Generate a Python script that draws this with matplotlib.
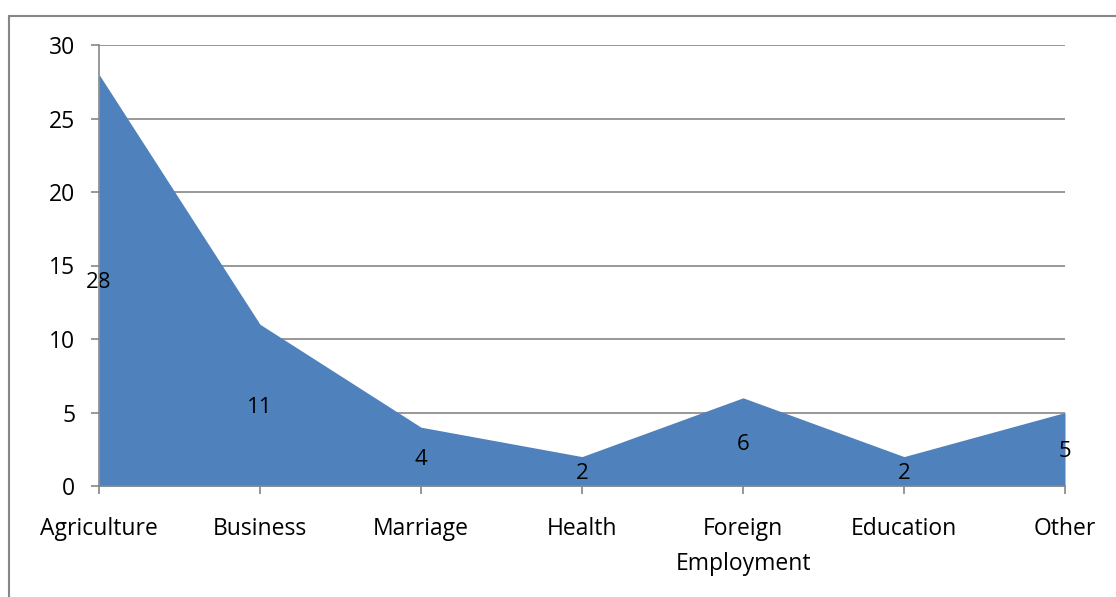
import matplotlib.pyplot as plt
from matplotlib.patches import Rectangle

categories = ['Agriculture', 'Business', 'Marriage', 'Health',
              'Foreign\nEmployment', 'Education', 'Other']
counts = [28, 11, 4, 2, 6, 2, 5]

plt.rcParams['font.family'] = ['Open Sans', 'DejaVu Sans']

fig = plt.figure(figsize=(11.16, 5.97), dpi=100)
ax = fig.add_axes([99 / 1116, 1 - 486 / 597, 966 / 1116, 441 / 597])

# chart frame around the whole drawing
fig.patches.append(Rectangle((9 / 1116, -0.05), 1.2, 1 - 16 / 597 + 0.05,
                             transform=fig.transFigure, fill=False,
                             edgecolor='#868686', linewidth=1.5))

x = list(range(len(categories)))
ax.fill_between(x, counts, 0, color='#4F81BD', linewidth=0, zorder=2)

# value labels sit halfway up each point
for xi, v in zip(x, counts):
    ax.text(xi, v / 2, str(v), ha='center', va='center_baseline',
            fontsize=16, color='black', zorder=3)

ax.set_xlim(0, len(categories) - 1)
ax.set_ylim(0, 30)
ax.set_yticks(range(0, 31, 5))
ax.set_xticks(x)
ax.set_xticklabels(categories, linespacing=1.65, va='top')
ax.yaxis.grid(True, color='#868686', linewidth=1.2, zorder=1)
ax.set_axisbelow(True)

for side in ['top', 'right']:
    ax.spines[side].set_visible(False)
for side in ['left', 'bottom']:
    ax.spines[side].set_color('#868686')
    ax.spines[side].set_linewidth(1.2)
    ax.spines[side].set_zorder(4)

ax.tick_params(axis='both', direction='out', length=6, width=1.2,
               color='#868686', labelsize=16.5)
ax.tick_params(axis='x', pad=16)
ax.tick_params(axis='y', pad=11)

fig.savefig('out.png', dpi=100)
